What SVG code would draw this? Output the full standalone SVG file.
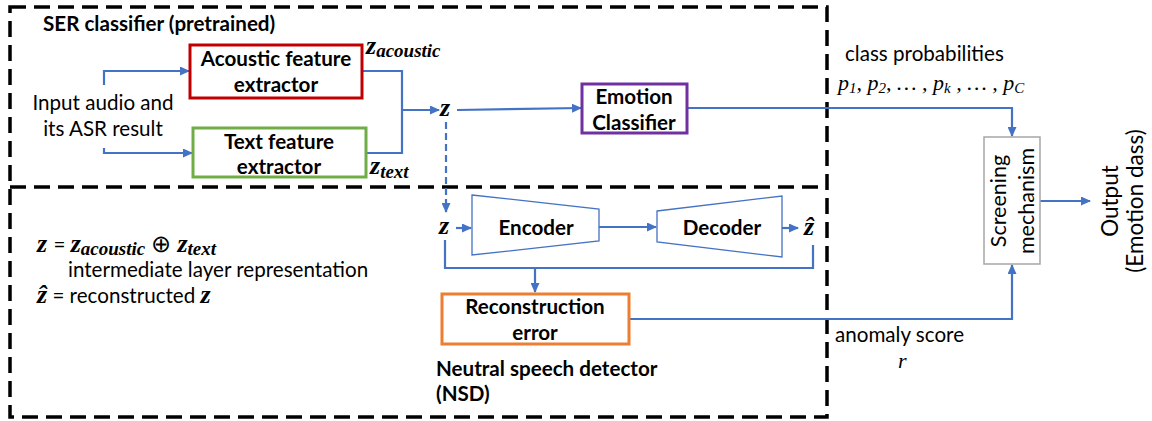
<svg xmlns="http://www.w3.org/2000/svg" width="1152" height="421" viewBox="0 0 1152 421">
  <defs>
    <marker id="arr" markerUnits="userSpaceOnUse" markerWidth="10" markerHeight="9" refX="9" refY="4.5" orient="auto">
      <path d="M0,0 L10,4.5 L0,9 z" fill="#4472C4"/>
    </marker>
    <style>
      .t { font-family: Lato, "Liberation Sans", sans-serif; font-size: 20.6px; fill: #000; }
      .b { font-weight: bold; }
      .c { text-anchor: middle; }
      .m { font-family: "Liberation Serif", "DejaVu Serif", serif; font-style: italic; font-weight: bold; font-size: 26px; fill: #000; }
      .mi { font-family: "Liberation Serif", "DejaVu Serif", serif; font-style: italic; font-size: 22px; fill: #000; }
      .sub { font-size: 19px; }
      .psub { font-size: 15px; }
      .up { font-family: Lato, "Liberation Sans", sans-serif; font-style: normal; font-weight: normal; font-size: 20.6px; }
      .conn { stroke: #4472C4; stroke-width: 2.2; fill: none; }
      .frame { stroke: #000; stroke-width: 3.5; fill: none; stroke-dasharray: 16 8; }
      .box { fill: #fff; stroke-width: 3; }
    </style>
  </defs>

  <!-- dashed region frames -->
  <g id="frames">
    <rect class="frame" x="10" y="7" width="817" height="410"/>
    <line class="frame" x1="10" y1="187" x2="827" y2="187"/>
  </g>

  <!-- connectors -->
  <g id="connectors">
    <path class="conn" d="M104,85 V71 H189" marker-end="url(#arr)"/>
    <path class="conn" d="M104,148 V153 H192" marker-end="url(#arr)"/>
    <path class="conn" d="M362,71 H402 V153 H366"/>
    <path class="conn" d="M402,110 H439" marker-end="url(#arr)"/>
    <path class="conn" d="M457,110 L581,108" marker-end="url(#arr)"/>
    <path class="conn" d="M687,108 H1012 V136" marker-end="url(#arr)"/>
    <path class="conn" d="M446,122 V212" stroke-dasharray="7 4" marker-end="url(#arr)"/>
    <path class="conn" d="M456,228 H471" marker-end="url(#arr)"/>
    <path class="conn" d="M599,227 H656" marker-end="url(#arr)"/>
    <path class="conn" d="M782,228 H798" marker-end="url(#arr)"/>
    <path class="conn" d="M445,240 V268 H813 V245"/>
    <path class="conn" d="M535,268 V292" marker-end="url(#arr)"/>
    <path class="conn" d="M629,319 H1012 V265" marker-end="url(#arr)"/>
    <path class="conn" d="M1040,201 H1090" marker-end="url(#arr)"/>
  </g>

  <!-- SER classifier -->
  <g id="ser-title">
    <text class="t b" x="43" y="31">SER classifier (pretrained)</text>
  </g>

  <g id="input">
    <text class="t c" x="103" y="110">Input audio and</text>
    <text class="t c" x="103" y="136">its ASR result</text>
  </g>

  <g id="acoustic">
    <rect class="box" x="190" y="45" width="172" height="53" stroke="#C00000"/>
    <text class="t b c" x="276" y="66">Acoustic feature</text>
    <text class="t b c" x="276" y="92">extractor</text>
  </g>

  <g id="textfeat">
    <rect class="box" x="193" y="128" width="173" height="49" stroke="#70AD47"/>
    <text class="t b c" x="279" y="149">Text feature</text>
    <text class="t b c" x="279" y="174">extractor</text>
  </g>

  <g id="z-acoustic">
    <text class="m" x="366" y="54">z<tspan class="sub" dy="3">acoustic</tspan></text>
  </g>
  <g id="z-text">
    <text class="m" x="370" y="174">z<tspan class="sub" dy="4">text</tspan></text>
  </g>
  <g id="z-top">
    <text class="m" x="440" y="116">z</text>
  </g>

  <g id="emotion">
    <rect class="box" x="582" y="84" width="105" height="49" stroke="#7030A0"/>
    <text class="t b c" x="634" y="104">Emotion</text>
    <text class="t b c" x="634" y="130">Classifier</text>
  </g>

  <g id="class-prob">
    <text class="t" x="845" y="61">class probabilities</text>
    <text class="mi" x="838" y="90">p<tspan class="psub" dy="3">1</tspan><tspan dy="-3">, p</tspan><tspan class="psub" dy="3">2</tspan><tspan dy="-3">, … , p</tspan><tspan class="psub" dy="3">k</tspan><tspan dy="-3"> , … , p</tspan><tspan class="psub" dy="3">C</tspan></text>
  </g>

  <g id="screening">
    <rect x="984" y="137" width="56" height="127" fill="#fff" stroke="#A6A6A6" stroke-width="1.5"/>
    <text class="t c" style="font-size:21.5px" transform="translate(1006,201) rotate(-90)">Screening</text>
    <text class="t c" style="font-size:21.5px" transform="translate(1034,201) rotate(-90)">mechanism</text>
  </g>

  <g id="output">
    <text class="t c" style="font-size:22.5px" transform="translate(1118,201) rotate(-90)">Output</text>
    <text class="t c" style="font-size:22.5px" transform="translate(1143,201) rotate(-90)">(Emotion dass)</text>
  </g>

  <!-- Neutral speech detector -->
  <g id="legend">
    <text class="m" x="37" y="252">z<tspan class="up" dx="1"> = </tspan><tspan>z</tspan><tspan class="sub" dy="3">acoustic</tspan><tspan dy="-3" class="up" font-family="DejaVu Sans" style="font-size:24px"> ⊕ </tspan><tspan>z</tspan><tspan class="sub" dy="3">text</tspan></text>
    <text class="t" x="68" y="277">intermediate layer representation</text>
    <text class="m" x="37" y="303">ẑ<tspan class="up"> = reconstructed </tspan><tspan>z</tspan></text>
  </g>

  <g id="z-in">
    <text class="m" x="439" y="234">z</text>
  </g>

  <g id="encoder">
    <path d="M472,195 L599,209 L599,241 L472,255 z" fill="#fff" stroke="#4472C4" stroke-width="1.3"/>
    <text class="t b c" x="536" y="235">Encoder</text>
  </g>

  <g id="decoder">
    <path d="M657,211 L782,196 L782,257 L657,242 z" fill="#fff" stroke="#4472C4" stroke-width="1.3"/>
    <text class="t b c" x="722" y="235">Decoder</text>
  </g>

  <g id="z-hat">
    <text class="m" x="804" y="235">ẑ</text>
  </g>

  <g id="recon">
    <rect class="box" x="442" y="294" width="187" height="50" stroke="#ED7D31"/>
    <text class="t b c" x="535" y="314">Reconstruction</text>
    <text class="t b c" x="535" y="340">error</text>
  </g>

  <g id="nsd-title">
    <text class="t b" x="436" y="376">Neutral speech detector</text>
    <text class="t b" x="436" y="401">(NSD)</text>
  </g>

  <g id="anomaly">
    <text class="t" x="835" y="342">anomaly score</text>
    <text class="mi" x="898" y="368">r</text>
  </g>
</svg>
